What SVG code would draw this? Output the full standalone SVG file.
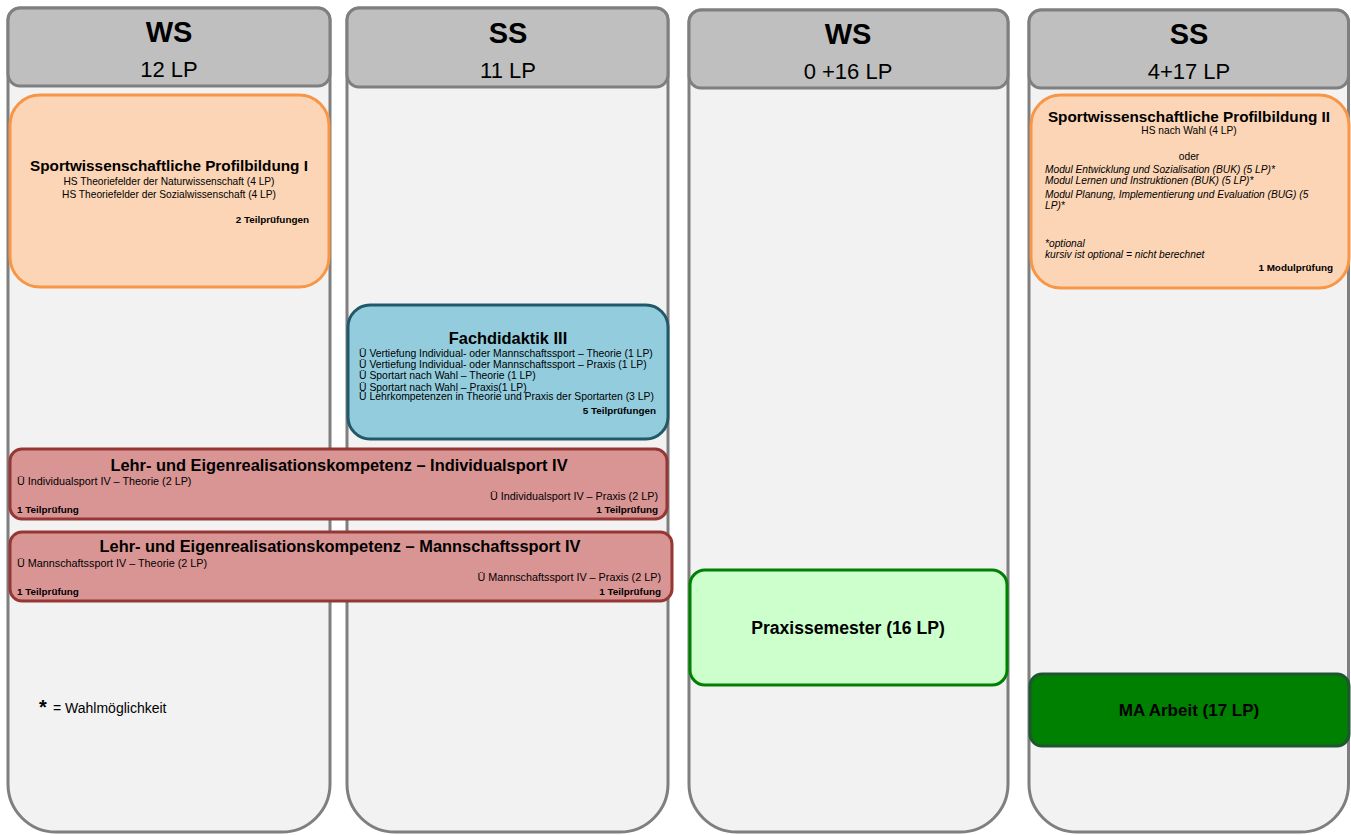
<svg xmlns="http://www.w3.org/2000/svg" width="1351" height="835" viewBox="0 0 1351 835">
<style>
text{font-family:"Liberation Sans",Arial,sans-serif;fill:#000}
.col{fill:#f2f2f2;stroke:#7f7f7f;stroke-width:3}
.hdr{fill:#bfbfbf;stroke:#7f7f7f;stroke-width:3}
.sem{font-size:29px;font-weight:bold;text-anchor:middle}
.lp{font-size:22px;text-anchor:middle}
.orange{fill:#fbd5b5;stroke:#f79646;stroke-width:3}
.blue{fill:#93cddd;stroke:#215968;stroke-width:3}
.red{fill:#d99594;stroke:#953735;stroke-width:3}
.lgreen{fill:#ccffcc;stroke:#008000;stroke-width:3}
.dgreen{fill:#008000;stroke:#1e5631;stroke-width:3}
.t15{font-size:15.3px;font-weight:bold}
.t16{font-size:16.4px;font-weight:bold}
.s{font-size:10.2px}
.sf{font-size:10.4px}
.sr{font-size:10.8px}
.sb{font-size:9.9px;font-weight:bold}
.c{text-anchor:middle}
.r{text-anchor:end}
.i{font-style:italic}
</style>
<g id="columns">
<g id="col-ws1">
<path class="col" d="M20,8 H318 A12,12 0 0 1 330,20 V784 A48,48 0 0 1 282,832 H56 A48,48 0 0 1 8,784 V20 A12,12 0 0 1 20,8 Z"/>
<rect class="hdr" x="8" y="8" width="322" height="78" rx="12"/>
<text class="sem" x="169" y="42">WS</text>
<text class="lp" x="169" y="77">12 LP</text>
</g>
<g id="col-ss1">
<path class="col" d="M359,8 H656 A12,12 0 0 1 668,20 V784 A48,48 0 0 1 620,832 H395 A48,48 0 0 1 347,784 V20 A12,12 0 0 1 359,8 Z"/>
<rect class="hdr" x="347" y="8" width="321" height="79" rx="12"/>
<text class="sem" x="508" y="43">SS</text>
<text class="lp" x="508" y="78">11 LP</text>
</g>
<g id="col-ws2">
<path class="col" d="M701,10 H996 A12,12 0 0 1 1008,22 V784 A48,48 0 0 1 960,832 H737 A48,48 0 0 1 689,784 V22 A12,12 0 0 1 701,10 Z"/>
<rect class="hdr" x="689" y="10" width="319" height="78" rx="12"/>
<text class="sem" x="848" y="44">WS</text>
<text class="lp" x="848" y="79">0 +16 LP</text>
</g>
<g id="col-ss2">
<path class="col" d="M1041,10 H1336.5 A12,12 0 0 1 1348.5,22 V784 A48,48 0 0 1 1300.5,832 H1077 A48,48 0 0 1 1029,784 V22 A12,12 0 0 1 1041,10 Z"/>
<rect class="hdr" x="1029" y="10" width="319.5" height="78" rx="12"/>
<text class="sem" x="1189" y="44">SS</text>
<text class="lp" x="1189" y="79">4+17 LP</text>
</g>
</g>
<g id="connectors"/>
<g id="profil1">
<rect class="orange" x="10" y="95" width="319" height="192" rx="30"/>
<text class="t15 c" x="169" y="171">Sportwissenschaftliche Profilbildung I</text>
<text class="s c" x="169" y="185">HS Theoriefelder der Naturwissenschaft (4 LP)</text>
<text class="s c" x="169" y="198">HS Theoriefelder der Sozialwissenschaft (4 LP)</text>
<text class="sb r" x="309" y="223">2 Teilprüfungen</text>
</g>
<g id="fachdidaktik3">
<rect class="blue" x="348" y="305" width="320" height="134" rx="22"/>
<text class="t16 c" x="508" y="344">Fachdidaktik III</text>
<text class="sf" x="359" y="357">Ü Vertiefung Individual- oder Mannschaftssport – Theorie (1 LP)</text>
<text class="sf" x="359" y="368">Ü Vertiefung Individual- oder Mannschaftssport – Praxis (1 LP)</text>
<text class="sf" x="359" y="379">Ü Sportart nach Wahl – Theorie (1 LP)</text>
<text class="sf" x="359" y="391">Ü Sportart nach Wahl – Praxis(1 LP)</text>
<text class="sf" x="359" y="400">Ü Lehrkompetenzen in Theorie und Praxis der Sportarten (3 LP)</text>
<text class="sb r" x="656" y="414">5 Teilprüfungen</text>
</g>
<g id="individualsport4">
<rect class="red" x="10" y="449" width="657" height="70" rx="12"/>
<text class="t16 c" x="339" y="471">Lehr- und Eigenrealisationskompetenz – Individualsport IV</text>
<text class="sr" x="17" y="485">Ü Individualsport IV – Theorie (2 LP)</text>
<text class="sr r" x="658" y="500">Ü Individualsport IV – Praxis (2 LP)</text>
<text class="sb" x="17" y="513">1 Teilprüfung</text>
<text class="sb r" x="658" y="513">1 Teilprüfung</text>
</g>
<g id="mannschaftssport4">
<rect class="red" x="10" y="532" width="662" height="69" rx="12"/>
<text class="t16 c" x="340" y="552">Lehr- und Eigenrealisationskompetenz – Mannschaftssport IV</text>
<text class="sr" x="17" y="567">Ü Mannschaftssport IV – Theorie (2 LP)</text>
<text class="sr r" x="661" y="581">Ü Mannschaftssport IV – Praxis (2 LP)</text>
<text class="sb" x="17" y="595">1 Teilprüfung</text>
<text class="sb r" x="661" y="595">1 Teilprüfung</text>
</g>
<g id="praxissemester">
<rect class="lgreen" x="690" y="570" width="317" height="115" rx="15"/>
<text class="c" x="848" y="634" style="font-size:17.6px;font-weight:bold">Praxissemester (16 LP)</text>
</g>
<g id="profil2">
<rect class="orange" x="1031" y="95" width="318" height="193" rx="30"/>
<text class="t15 c" x="1189" y="122">Sportwissenschaftliche Profilbildung II</text>
<text class="s c" x="1189" y="134">HS nach Wahl (4 LP)</text>
<text class="s c" x="1189" y="160">oder</text>
<text class="s i" x="1045" y="173">Modul Entwicklung und Sozialisation (BUK) (5 LP)*</text>
<text class="s i" x="1045" y="184">Modul Lernen und Instruktionen (BUK) (5 LP)*</text>
<text class="s i" x="1045" y="198">Modul Planung, Implementierung und Evaluation (BUG) (5</text>
<text class="s i" x="1045" y="209">LP)*</text>
<text class="s i" x="1045" y="247">*optional</text>
<text class="s i" x="1045" y="258">kursiv ist optional = nicht berechnet</text>
<text class="sb r" x="1333" y="271">1 Modulprüfung</text>
</g>
<g id="ma-arbeit">
<rect class="dgreen" x="1030" y="674" width="319" height="72" rx="12"/>
<text class="c" x="1189" y="716" style="font-size:17px;font-weight:bold">MA Arbeit (17 LP)</text>
</g>
<g id="legend">
<text x="39" y="714" style="font-size:20px;font-weight:bold">*</text>
<text x="53" y="713" style="font-size:14px">= Wahlmöglichkeit</text>
</g>
</svg>
